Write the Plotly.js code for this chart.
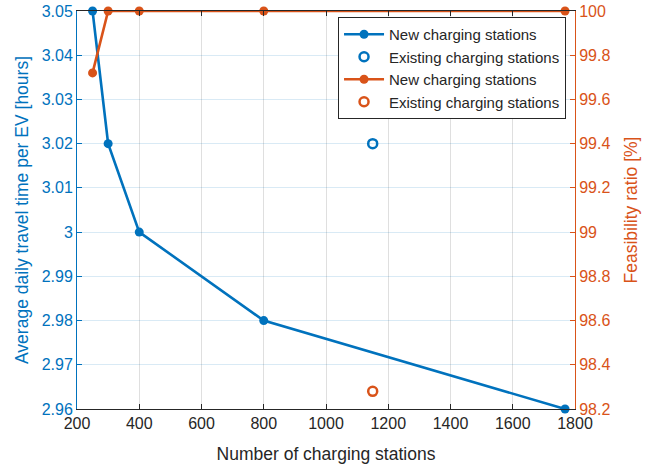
<!DOCTYPE html>
<html>
<head>
<meta charset="utf-8">
<script src="https://cdn.plot.ly/plotly-3.0.1.min.js"></script>
<style>html,body{margin:0;padding:0;background:#fff}#chart{width:659px;height:468px}</style>
</head>
<body>
<div id="chart"></div>
<script>
// Data
const stationsNew = [250, 300, 400, 800, 1768];
const travelTimeNew = [3.05, 3.02, 3.00, 2.98, 2.96];
const feasibilityNew = [99.72, 100, 100, 100, 100];
const stationsExisting = [1150];
const travelTimeExisting = [3.02];
const feasibilityExisting = [98.28];

const xTicks = [200, 400, 600, 800, 1000, 1200, 1400, 1600, 1800];
const leftTickVals = [2.96, 2.97, 2.98, 2.99, 3.00, 3.01, 3.02, 3.03, 3.04, 3.05];
const leftTickText = ["2.96", "2.97", "2.98", "2.99", "3", "3.01", "3.02", "3.03", "3.04", "3.05"];
const rightTickVals = [98.2, 98.4, 98.6, 98.8, 99.0, 99.2, 99.4, 99.6, 99.8, 100];
const rightTickText = ["98.2", "98.4", "98.6", "98.8", "99", "99.2", "99.4", "99.6", "99.8", "100"];

const BLUE = '#0072BD';
const ORANGE = '#D95319';
const FONT = 'Liberation Sans, Arial, Helvetica, sans-serif';

const traces = [
  {x: stationsNew, y: travelTimeNew, name: 'New charging stations', mode: 'lines+markers',
   line: {color: BLUE, width: 2.6}, marker: {color: BLUE, size: 9}, yaxis: 'y', cliponaxis: false},
  {x: stationsExisting, y: travelTimeExisting, name: 'Existing charging stations', mode: 'markers',
   marker: {color: BLUE, size: 9, symbol: 'circle-open', line: {width: 2.5}}, yaxis: 'y', cliponaxis: false},
  {x: stationsNew, y: feasibilityNew, name: 'New charging stations', mode: 'lines+markers',
   line: {color: ORANGE, width: 2.6}, marker: {color: ORANGE, size: 9}, yaxis: 'y2', cliponaxis: false},
  {x: stationsExisting, y: feasibilityExisting, name: 'Existing charging stations', mode: 'markers',
   marker: {color: ORANGE, size: 9, symbol: 'circle-open', line: {width: 2.5}}, yaxis: 'y2', cliponaxis: false}
];

const layout = {
  width: 659, height: 468,
  margin: {l: 77, r: 84, t: 11, b: 59},
  paper_bgcolor: '#fff', plot_bgcolor: '#fff',
  font: {family: FONT, size: 16, color: '#262626'},
  showlegend: true,
  legend: {x: 0.982, y: 0.985, xanchor: 'right', yanchor: 'top', bgcolor: '#fff',
    bordercolor: '#262626', borderwidth: 1, font: {size: 15, color: '#262626'},
    tracegroupgap: 0, itemwidth: 40},
  xaxis: {range: [200, 1800], tickvals: xTicks, ticktext: xTicks.map(String),
    showgrid: true, gridcolor: 'rgba(38,38,38,0.15)', zeroline: false,
    showline: true, linecolor: '#262626', linewidth: 1, mirror: 'ticks',
    ticks: 'inside', ticklen: 5, tickcolor: '#262626',
    tickfont: {size: 16, color: '#262626'},
    title: {text: 'Number of charging stations', font: {size: 17.5, color: '#262626'}, standoff: 16}},
  yaxis: {range: [2.96, 3.05], tickvals: leftTickVals, ticktext: leftTickText,
    showgrid: true, gridcolor: 'rgba(0,114,189,0.15)', zeroline: false,
    showline: true, linecolor: BLUE, linewidth: 1,
    ticks: 'inside', ticklen: 5, tickcolor: BLUE,
    tickfont: {size: 16, color: BLUE},
    title: {text: 'Average daily travel time per EV [hours]', font: {size: 17.5, color: BLUE}, standoff: 8}},
  yaxis2: {range: [98.2, 100], tickvals: rightTickVals, ticktext: rightTickText,
    overlaying: 'y', side: 'right', showgrid: false, zeroline: false,
    showline: true, linecolor: ORANGE, linewidth: 1,
    ticks: 'inside', ticklen: 5, tickcolor: ORANGE,
    tickfont: {size: 16, color: ORANGE},
    title: {text: 'Feasibility ratio [%]', font: {size: 17.5, color: ORANGE}, standoff: 15}}
};

Plotly.newPlot('chart', traces, layout, {displayModeBar: false, staticPlot: true});
</script>
</body>
</html>
